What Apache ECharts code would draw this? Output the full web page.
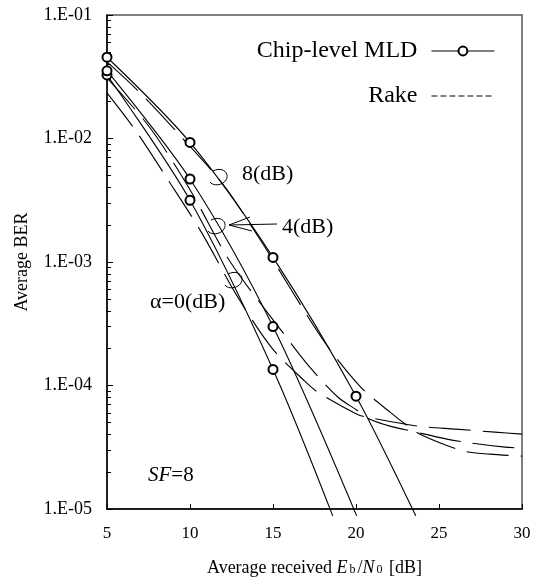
<!DOCTYPE html>
<html><head><meta charset="utf-8">
<script src="https://cdn.jsdelivr.net/npm/echarts@6/dist/echarts.min.js"></script>
<style>html,body{margin:0;padding:0;background:#fff}#c{width:543px;height:582px}</style>
</head><body><div id="c"></div>
<script>
// ---- data (Eb/N0 [dB], average BER) ----
const xTickLabels = ['5', '10', '15', '20', '25', '30'];
const yTickValues = [1e-5, 1e-4, 1e-3, 1e-2, 1e-1];
const yTickLabels = ['1.E-05', '1.E-04', '1.E-03', '1.E-02', '1.E-01'];

const mldAlpha0 = [[5, 0.0327], [10, 0.00316], [15, 1.35e-4], [18.6, 8.8e-6]];
const mldAlpha4 = [[5, 0.0353], [10, 0.0047], [15, 3.0e-4], [20.04, 8.8e-6]];
const mldAlpha8 = [[5, 0.0455], [10, 0.00929], [15, 0.00109], [20, 8.2e-5], [23.6, 8.8e-6]];

const rakeAlpha0 = [[5, 0.0234], [6.69, 0.01177], [8.67, 0.00464], [10.7, 0.00173], [12.89, 5.16e-4],
  [15, 1.96e-4], [16.93, 1.08e-4], [17.71, 8.81e-5], [20.06, 5.86e-5], [20.66, 5.54e-5],
  [23.73, 4.69e-5], [26.02, 4.43e-5], [28.37, 4.19e-5], [30, 4.04e-5]];
const rakeAlpha4 = [[5, 0.0310], [7.59, 0.01222], [10, 0.00385], [12.41, 0.00101], [15.54, 2.74e-4],
  [17.23, 1.40e-4], [18.92, 8.03e-5], [20.06, 6.31e-5], [20.84, 5.33e-5], [22.05, 4.69e-5],
  [23.37, 4.27e-5], [25.48, 3.68e-5], [26.99, 3.41e-5], [28.98, 3.17e-5], [30, 3.11e-5]];
const rakeAlpha8 = [[5, 0.0417], [7, 0.0234], [9.52, 0.01014], [12, 0.00423], [14.22, 0.00152],
  [18, 2.36e-4], [20.24, 9.86e-5], [22.05, 6.08e-5], [23.13, 4.69e-5], [23.98, 3.96e-5],
  [26.5, 2.94e-5], [28.07, 2.78e-5], [30, 2.68e-5]];

const FONT = 'Liberation Serif';
const yMin = yTickValues[0], yMax = yTickValues[yTickValues.length - 1];

function mldSeries(d) {
  return {
    name: 'Chip-level MLD', type: 'line', smooth: 0.3, clip: false, z: 3,
    data: d.map(p => ({ value: p, symbol: p[1] < yMin ? 'none' : 'emptyCircle' })),
    symbol: 'emptyCircle', symbolSize: 9,
    lineStyle: { color: '#000', width: 1.1 },
    itemStyle: { color: '#000', borderWidth: 1.3 }
  };
}
function rakeSeries(d) {
  return {
    name: 'Rake', type: 'line', smooth: 0.3, clip: false, z: 2,
    data: d, symbol: 'none', showSymbol: false,
    lineStyle: { color: '#000', width: 1.1, type: [42, 12] },
    itemStyle: { color: '#000' }
  };
}

function loop(L, T) {
  return [
    { type: 'bezierCurve', shape: { x1: L + 3, y1: T + 3, cpx1: L + 15, cpy1: T - 3, cpx2: L + 22, cpy2: T + 9, x2: L + 13, y2: T + 15 },
      style: { stroke: '#000', lineWidth: 1, fill: null } },
    { type: 'bezierCurve', shape: { x1: L + 13, y1: T + 15, cpx1: L + 8, cpy1: T + 18, cpx2: L + 2, cpy2: T + 17, x2: L, y2: T + 14 },
      style: { stroke: '#000', lineWidth: 1, fill: null } }
  ];
}
const txt = (x, y, s, size) => ({ type: 'text', x: x, y: y,
  style: { text: s, fill: '#000', font: size + 'px "' + FONT + '"', verticalAlign: 'middle' } });

const chart = echarts.init(document.getElementById('c'), null, { renderer: 'canvas' });
chart.setOption({
  animation: false,
  backgroundColor: '#fff',
  grid: { left: 107, right: 21, top: 15, bottom: 72, show: true, borderColor: '#555', borderWidth: 1.5 },
  legend: {
    orient: 'vertical', right: 43, top: 34, align: 'right', itemGap: 21,
    itemWidth: 63, itemHeight: 11,
    textStyle: { fontFamily: FONT, fontSize: 24, color: '#000', padding: [0, 9, 0, 0] },
    data: [{ name: 'Chip-level MLD', lineStyle: { width: 1.1 } },
      { name: 'Rake', lineStyle: { type: [6, 3], width: 1.1 }, itemStyle: { opacity: 0 } }]
  },
  xAxis: {
    type: 'value', min: 5, max: 30, interval: 5,
    axisLine: { onZero: false, lineStyle: { color: '#000', width: 1.5 } },
    axisTick: { inside: true, length: 5, lineStyle: { color: '#000' } },
    splitLine: { show: false },
    axisLabel: { fontFamily: FONT, fontSize: 17, color: '#000', margin: 16,
      formatter: v => xTickLabels[Math.round((v - 5) / 5)] },
    name: '{n|Average received }{i|E}{s|b}{n|/}{i|N}{s|0}{n| [dB]}',
    nameLocation: 'middle', nameGap: 50,
    nameTextStyle: {
      rich: {
        n: { fontFamily: FONT, fontSize: 18, color: '#000', padding: [0, 0, 4, 0] },
        i: { fontFamily: FONT, fontSize: 18, color: '#000', fontStyle: 'italic', padding: [0, 0, 4, 0] },
        s: { fontFamily: FONT, fontSize: 12, color: '#000', padding: [0, 2, 0, 2] }
      }
    }
  },
  yAxis: {
    type: 'log', logBase: 10, min: yMin, max: yMax,
    axisLine: { show: true, onZero: false, lineStyle: { color: '#000', width: 1.5 } },
    axisTick: { show: true, inside: true, length: 6, lineStyle: { color: '#000' } },
    minorTick: { show: true, splitNumber: 9, length: 4, lineStyle: { color: '#000' } },
    splitLine: { show: false }, minorSplitLine: { show: false },
    axisLabel: { fontFamily: FONT, fontSize: 18, color: '#000', margin: 15,
      formatter: v => {
        const e = Math.round(Math.log10(v));
        const i = yTickValues.findIndex(t => Math.round(Math.log10(t)) === e);
        return i >= 0 ? yTickLabels[i] : '';
      } },
    name: 'Average BER', nameLocation: 'middle', nameGap: 76, nameRotate: 90,
    nameTextStyle: { fontFamily: FONT, fontSize: 18, color: '#000' }
  },
  graphic: [
    txt(242, 174, '8(dB)', 22),
    txt(282, 227, '4(dB)', 22),
    txt(150, 302, 'α=0(dB)', 22),
    { type: 'text', x: 148, y: 475,
      style: { text: '{i|SF}=8', fill: '#000', font: '21px "' + FONT + '"', verticalAlign: 'middle',
        rich: { i: { fontStyle: 'italic', fontFamily: FONT, fontSize: 21 } } } },
    ...loop(210, 168),
    ...loop(208, 217),
    ...loop(225, 271),
    { type: 'polyline', shape: { points: [[277, 224], [229, 225]] }, style: { stroke: '#000', lineWidth: 1 } },
    { type: 'polyline', shape: { points: [[250, 217], [229, 225], [252, 231]] }, style: { stroke: '#000', lineWidth: 1, fill: null } }
  ],
  series: [
    mldSeries(mldAlpha0), mldSeries(mldAlpha4), mldSeries(mldAlpha8),
    rakeSeries(rakeAlpha0), rakeSeries(rakeAlpha4), rakeSeries(rakeAlpha8)
  ]
});
</script></body></html>
